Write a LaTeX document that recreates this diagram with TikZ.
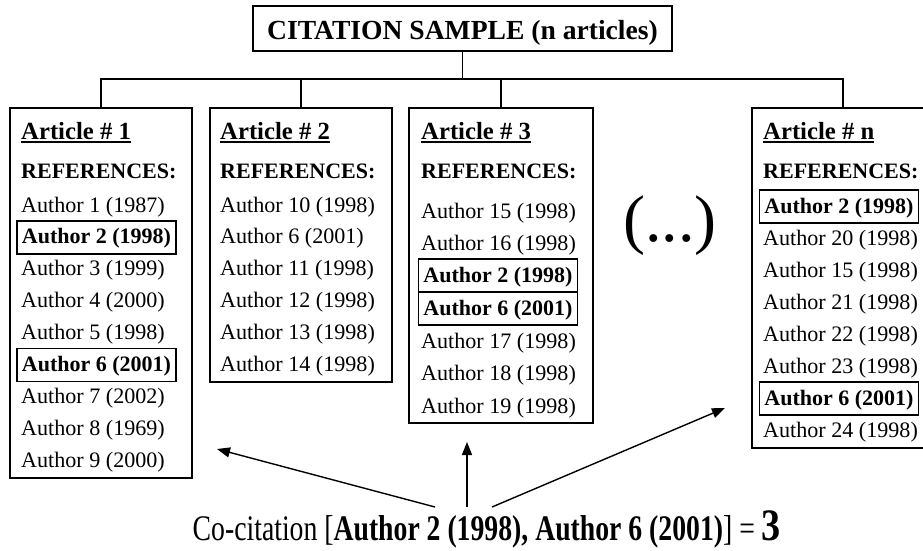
\documentclass[tikz,border=0pt]{standalone}
\usepackage{fontspec}
\setmainfont{Liberation Serif}
\usetikzlibrary{arrows.meta}
\newsavebox\ulbox
\newcommand\hdul[1]{\sbox\ulbox{#1}\rlap{\rule[-4pt]{\wd\ulbox}{1.9pt}}\usebox\ulbox}
\tikzset{
  every node/.style={inner sep=0pt},
  artbox/.style={draw, line width=1.5pt, anchor=north, minimum width=182pt},
  treeline/.style={line width=1.5pt},
  head/.style={anchor=base west, font=\bfseries\fontsize{24.7}{26}\selectfont},
  refs/.style={anchor=base west, font=\bfseries\fontsize{22}{24}\selectfont},
  ref/.style={anchor=base west, font=\fontsize{22.1}{24}\selectfont},
  hl/.style={draw, line width=1.2pt, anchor=base, minimum width=159pt,
    text height=22pt, text depth=9pt, inner ysep=1pt,
    font=\bfseries\fontsize{22}{24}\selectfont},
  arr/.style={line width=1.4pt, -{Triangle[length=13pt,width=10pt]}}
}
\begin{document}
\begin{tikzpicture}[x=1pt,y=-1pt]
\useasboundingbox (0,0) rectangle (923,550);
\clip (0,0) rectangle (923,550);
% title
\node[draw, line width=1.5pt, minimum width=419pt, minimum height=45pt,
  text height=21.6pt, text depth=0pt,
  font=\bfseries\fontsize{27.6}{30}\selectfont] (title) at (462.5,28.5) {CITATION SAMPLE (n articles)};
% article boxes
\node[artbox, minimum height=370pt] (a1) at (101,107) {};
\node[artbox, minimum height=274pt] (a2) at (301,107) {};
\node[artbox, minimum width=184pt, minimum height=315pt] (a3) at (501,107) {};
\node[artbox, minimum height=340pt] (an) at (843,107) {};
% tree
\coordinate (bar) at (462.5,79);
\draw[treeline] (title.south) -- (bar);
\draw[treeline] (a1.north) -- (a1.north |- bar) -- (an.north |- bar) -- (an.north);
\draw[treeline] (a2.north) -- (a2.north |- bar);
\draw[treeline] (a3.north) -- (a3.north |- bar);
% box 1
\node[head] (h1) at (21,139) {\hdul{Article \# 1}};
\node[refs] (r1) at (21,178) {REFERENCES:};
\node[ref] (b1a) at (21,212) {Author 1 (1987)};
\node[hl] (b1b) at (96.5,243.9) {Author 2 (1998)};
\node[ref] (b1c) at (21,275.8) {Author 3 (1999)};
\node[ref] (b1d) at (21,307.7) {Author 4 (2000)};
\node[ref] (b1e) at (21,339.6) {Author 5 (1998)};
\node[hl] (b1f) at (96.5,371.5) {Author 6 (2001)};
\node[ref] (b1g) at (21,403.4) {Author 7 (2002)};
\node[ref] (b1h) at (21,435.3) {Author 8 (1969)};
\node[ref] (b1i) at (21,467.2) {Author 9 (2000)};
% box 2
\node[head] (h2) at (220,139) {\hdul{Article \# 2}};
\node[refs] (r2) at (220,178) {REFERENCES:};
\node[ref] (b2a) at (220,212) {Author 10 (1998)};
\node[ref] (b2b) at (220,243.9) {Author 6 (2001)};
\node[ref] (b2c) at (220,275.8) {Author 11 (1998)};
\node[ref] (b2d) at (220,307.7) {Author 12 (1998)};
\node[ref] (b2e) at (220,339.6) {Author 13 (1998)};
\node[ref] (b2f) at (220,371.5) {Author 14 (1998)};
% box 3
\node[head] (h3) at (421,139) {\hdul{Article \# 3}};
\node[refs] (r3) at (421,178) {REFERENCES:};
\node[ref] (b3a) at (421,218) {Author 15 (1998)};
\node[ref] (b3b) at (421,250.5) {Author 16 (1998)};
\node[hl] (b3c) at (498,282) {Author 2 (1998)};
\node[hl] (b3d) at (498,315) {Author 6 (2001)};
\node[ref] (b3e) at (421,348) {Author 17 (1998)};
\node[ref] (b3f) at (421,380.5) {Author 18 (1998)};
\node[ref] (b3g) at (421,413) {Author 19 (1998)};
% box n
\node[head] (hn) at (763,139) {\hdul{Article \# n}};
\node[refs] (rn) at (763,178) {REFERENCES:};
\node[hl] (bna) at (839,213) {Author 2 (1998)};
\node[ref] (bnb) at (763,245) {Author 20 (1998)};
\node[ref] (bnc) at (763,277) {Author 15 (1998)};
\node[ref] (bnd) at (763,309) {Author 21 (1998)};
\node[ref] (bne) at (763,341) {Author 22 (1998)};
\node[ref] (bnf) at (763,373) {Author 23 (1998)};
\node[hl] (bng) at (839,405) {Author 6 (2001)};
\node[ref] (bnh) at (763,437) {Author 24 (1998)};
% ellipsis
\node[anchor=base, font=\fontsize{66}{70}\selectfont] (dots) at (670,241) {(...)};
% co-citation
\node[anchor=base west] (cocit) at (192.5,540) {\scalebox{0.77}[1]{\fontsize{36}{40}\selectfont Co-citation [\textbf{Author 2 (1998), Author 6 (2001)}] = }\scalebox{0.85}[1]{\fontsize{45}{48}\selectfont\bfseries 3}};
% arrows
\coordinate (t1) at (435,507);
\coordinate (t2) at (467,507);
\coordinate (t3) at (492,507);
\coordinate (p1) at (217,449);
\coordinate (p2) at (467,442);
\coordinate (p3) at (725,408);
\draw[arr] (t1) -- (p1);
\draw[arr] (t2) -- (p2);
\draw[arr] (t3) -- (p3);
\end{tikzpicture}
\end{document}
